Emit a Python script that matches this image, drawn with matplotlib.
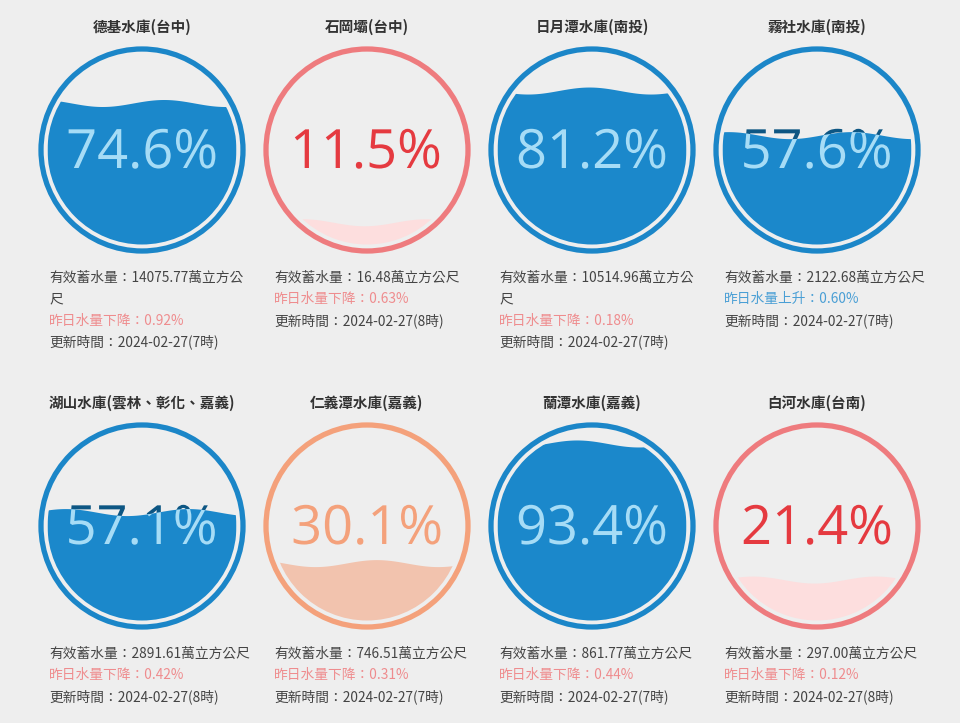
import numpy as np
import matplotlib.pyplot as plt
from matplotlib.patches import Circle, Polygon, PathPatch
from matplotlib.textpath import TextPath
from matplotlib.font_manager import FontProperties
from matplotlib.transforms import Affine2D

plt.rcParams['font.family'] = ['Noto Sans CJK TC', 'DejaVu Sans']

# 水庫資料
names = ['德基水庫(台中)', '石岡壩(台中)', '日月潭水庫(南投)', '霧社水庫(南投)',
         '湖山水庫(雲林、彰化、嘉義)', '仁義潭水庫(嘉義)', '蘭潭水庫(嘉義)', '白河水庫(台南)']
pct = [74.6, 11.5, 81.2, 57.6, 57.1, 30.1, 93.4, 21.4]
storage = [14075.77, 16.48, 10514.96, 2122.68, 2891.61, 746.51, 861.77, 297.00]
change = [-0.92, -0.63, -0.18, 0.60, -0.42, -0.31, -0.44, -0.12]
update_date = '2024-02-27'
update_hour = [7, 8, 7, 7, 8, 7, 7, 8]

BG = '#eeeeee'
# ring, fill, text outside water, text inside water
palettes = {
    'blue': ('#1b86c8', '#1b88cb', '#0d5683', '#a6dcf6'),
    'orange': ('#f4a17b', '#f2c3ae', '#f4a17b', '#f4a17b'),
    'red': ('#ee7b7e', '#fddede', '#e53a40', '#e53a40'),
}
wave_phase = [0.3, 0.0, 0.5, 0.2, 0.1, 0.4, 0.6, 0.0]

fig = plt.figure(figsize=(9.6, 7.23), dpi=100, facecolor=BG)
ax = fig.add_axes([0, 0, 1, 1])
ax.set_xlim(0, 960)
ax.set_ylim(723, 0)
ax.axis('off')
ax.set_facecolor(BG)

col_x = [142, 367, 592, 817]
row_y = [150, 526]
r_ring = 101
r_fill = 94.5
big_font = FontProperties(family='Open Sans')
big_px = 39 * 100 / 72  # 字高(像素)


def big_label(s, cx, base_y):
    tp = TextPath((0, 0), s, size=big_px, prop=big_font)
    ext = tp.get_extents()
    tr = Affine2D().scale(1, -1).translate(cx - (ext.x0 + ext.x1) / 2, base_y)
    return tr.transform_path(tp)


for i in range(len(names)):
    cx = col_x[i % 4]
    cy = row_y[i // 4]
    p = pct[i]
    if p < 30:
        ring_c, fill_c, txt_out, txt_in = palettes['red']
    elif p < 50:
        ring_c, fill_c, txt_out, txt_in = palettes['orange']
    else:
        ring_c, fill_c, txt_out, txt_in = palettes['blue']

    # 標題
    ax.text(cx, cy - 123, names[i], ha='center', va='center', fontsize=10.5,
            color='#333333', weight='bold')

    # 外圈
    ax.add_patch(Circle((cx, cy), r_ring, fill=False, ec=ring_c, lw=3.8, zorder=2))

    # 外面的字
    label = '%.1f%%' % p
    path = big_label(label, cx, cy + 18)
    ax.add_patch(PathPatch(path, fc=txt_out, ec='none', zorder=3))

    # 水面
    level = cy + r_fill - p / 100 * 2 * r_fill
    xs = np.linspace(cx - r_fill, cx + r_fill, 200)
    lam = 1.3 * r_fill
    ys = level - 3.5 * np.sin(2 * np.pi * ((xs - cx + r_fill) / lam + wave_phase[i]))
    pts = np.column_stack([np.r_[xs, cx + r_fill, cx - r_fill],
                           np.r_[ys, cy + r_fill + 5, cy + r_fill + 5]])
    clip = Circle((cx, cy), r_fill, fill=False, lw=0, transform=ax.transData)
    water = Polygon(pts, closed=True, fc=fill_c, ec='none', zorder=4)
    ax.add_patch(water)
    water.set_clip_path(clip)

    # 水裡的字
    inner = PathPatch(path, fc=txt_in, ec='none', zorder=5)
    ax.add_patch(inner)
    inner.set_clip_path(water)

    # 說明文字
    lines = []
    s = '有效蓄水量：%.2f萬立方公尺' % storage[i]
    if len(s) > 18:
        lines.append((s[:18], '#444444'))
        lines.append((s[18:], '#444444'))
    else:
        lines.append((s, '#444444'))
    if change[i] < 0:
        lines.append(('昨日水量下降：%.2f%%' % abs(change[i]), '#ee8c8e'))
    else:
        lines.append(('昨日水量上升：%.2f%%' % change[i], '#4a9fd5'))
    lines.append(('更新時間：%s(%d時)' % (update_date, update_hour[i]), '#444444'))

    y0 = cy + 128
    for k, (txt, c) in enumerate(lines):
        ax.text(cx - 93, y0 + k * 21.3, txt, ha='left', va='center', fontsize=9.9, color=c)

fig.savefig('out.png', dpi=100, facecolor=BG)
